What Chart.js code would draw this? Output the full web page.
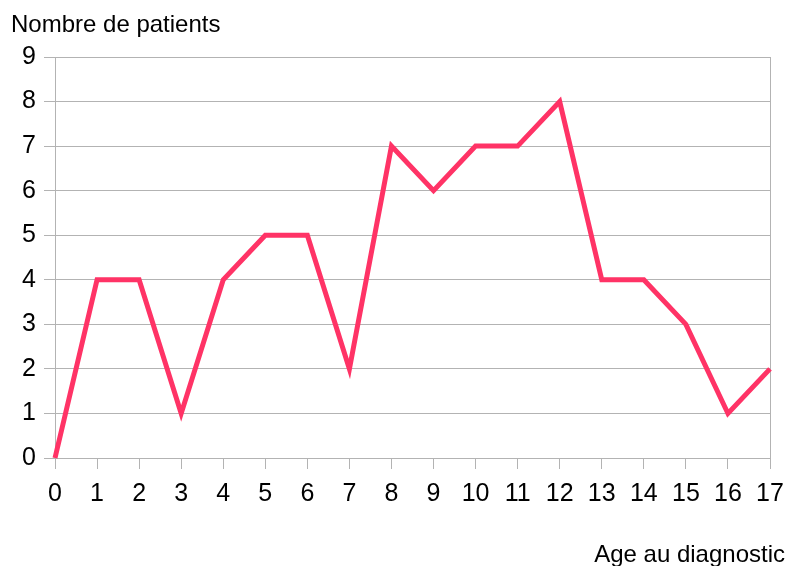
<!DOCTYPE html>
<html>
<head>
<meta charset="utf-8">
<script src="https://cdn.jsdelivr.net/npm/chart.js@4"></script>
<style>
  html, body { margin: 0; padding: 0; background: #fff; }
  #wrap { width: 790px; height: 566px; }
</style>
</head>
<body>
<div id="wrap"><canvas id="chart" width="790" height="566"></canvas></div>
<script>
const ages = [0, 1, 2, 3, 4, 5, 6, 7, 8, 9, 10, 11, 12, 13, 14, 15, 16, 17];
const patients = [0, 4, 4, 1, 4, 5, 5, 2, 7, 6, 7, 7, 8, 4, 4, 3, 1, 2];
const yTitle = 'Nombre de patients';
const xTitle = 'Age au diagnostic';

const gridGray = '#b3b3b3';
const fontFamily = '"Liberation Sans", Arial, sans-serif';

const titlesPlugin = {
    id: 'titles',
    afterDraw(chart) {
        const ctx = chart.ctx;
        ctx.save();
        ctx.fillStyle = '#000';
        ctx.font = `24px ${fontFamily}`;
        ctx.textBaseline = 'alphabetic';
        ctx.textAlign = 'left';
        ctx.fillText(yTitle, 11, 32);
        ctx.textAlign = 'right';
        ctx.fillText(xTitle, 785, 562);
        ctx.restore();
    }
};

new Chart(document.getElementById('chart'), {
    type: 'line',
    data: {
        datasets: [{
            data: ages.map((a, i) => ({ x: a, y: patients[i] })),
            borderColor: '#ff3366',
            borderWidth: 5,
            pointRadius: 0,
            tension: 0,
            borderJoinStyle: 'miter',
            clip: false
        }]
    },
    options: {
        responsive: false,
        animation: false,
        layout: { padding: { top: 57, right: 20, left: 0, bottom: 0 } },
        plugins: { legend: { display: false }, tooltip: { enabled: false } },
        scales: {
            x: {
                type: 'linear',
                min: 0,
                max: 17,
                afterFit(scale) { scale.height = 108; scale.paddingRight = 0; scale.paddingLeft = 0; },
                ticks: {
                    stepSize: 1,
                    color: '#000',
                    padding: 10,
                    font: { family: fontFamily, size: 25 }
                },
                grid: {
                    color: c => (c.tick && (c.tick.value === 0 || c.tick.value === 17)) ? gridGray : 'rgba(0,0,0,0)',
                    tickColor: gridGray,
                    tickLength: 11
                },
                border: { color: gridGray }
            },
            y: {
                min: 0,
                max: 9,
                afterFit(scale) { scale.width = 55; },
                ticks: {
                    stepSize: 1,
                    color: '#000',
                    padding: 8,
                    font: { family: fontFamily, size: 25 }
                },
                grid: {
                    color: gridGray,
                    tickColor: gridGray,
                    tickLength: 11
                },
                border: { color: gridGray }
            }
        }
    },
    plugins: [titlesPlugin]
});
</script>
</body>
</html>
